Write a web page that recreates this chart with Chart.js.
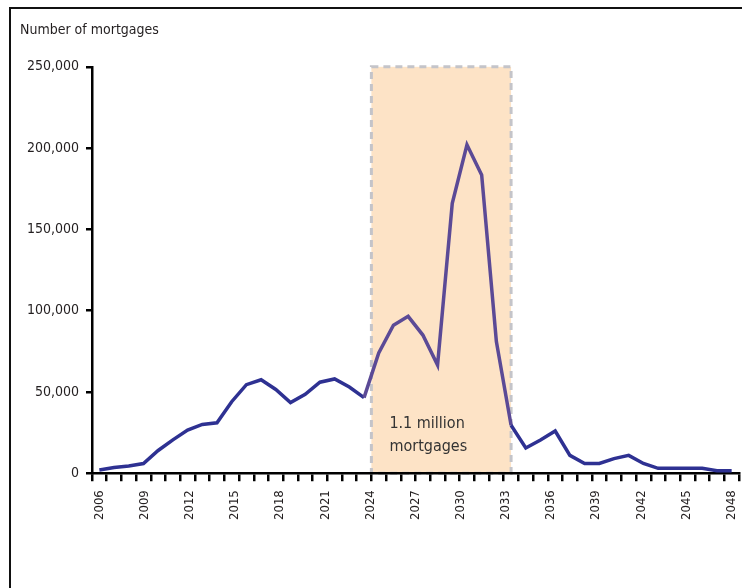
<!DOCTYPE html>
<html>
<head>
<meta charset="utf-8">
<script src="https://cdn.jsdelivr.net/npm/chart.js@4.4.1/dist/chart.umd.min.js"></script>
<style>
  body { margin: 0; background: #fff; }
  #frame { position: absolute; left: 9px; top: 7px; width: 760px; height: 600px;
           border-top: 2px solid #111; border-left: 2px solid #111; }
  #chart { position: absolute; left: 0; top: 0; }
</style>
</head>
<body>
<div id="frame"></div>
<canvas id="chart" width="742" height="588"></canvas>
<script>
// yearly data points (2006-2049)
var years = ['2006','2007','2008','2009','2010','2011','2012','2013','2014','2015',
  '2016','2017','2018','2019','2020','2021','2022','2023','2024','2025',
  '2026','2027','2028','2029','2030','2031','2032','2033','2034','2035',
  '2036','2037','2038','2039','2040','2041','2042','2043','2044','2045',
  '2046','2047','2048','2049']
var mortgages = [2000, 3500, 4500, 6000, 14000, 20500, 26500, 30000, 31000, 44000,
  54500, 57500, 51500, 43500, 48500, 56000, 58000, 53000, 46500, 74000,
  91000, 96500, 85000, 66500, 166000, 202000, 183500, 81000, 29500, 15500,
  20500, 26000, 11000, 6000, 6000, 9000, 11000, 6000, 3000, 3000,
  3000, 3000, 1500, 1500]

// labels printed under the axis
var axisYears = ['2006','2007','2008','2009','2010','2011','2012','2013','2014','2015',
  '2016','2017','2018','2019','2020','2021','2022','2023','2024','2025',
  '2026','2027','2028','2029','2030','2031','2032','2033','2034','2035',
  '2036','2037','2038','2039','2040','2041','2042','2043','2044','2045',
  '2046','2047','2048']
var labelEvery = 3

// highlighted period and its note
var shadeFrom = 2024.5
var shadeTo = 2034
var shadeNote = ['1.1 million', 'mortgages']

var FONT = "'DejaVu Sans Condensed', 'Liberation Sans Narrow', sans-serif"
var INK = '#231f20'
var NAVY = '#2e3192'
var PURPLE = '#5b4a96'

var shadePlugin = {
  id: 'shade',
  beforeDraw: function(chart) {
    var ctx = chart.ctx, x = chart.scales.x, y = chart.scales.y
    var left = x.getPixelForValue(shadeFrom - 2006)
    var right = x.getPixelForValue(shadeTo - 2006)
    var top = y.getPixelForValue(250000), bottom = y.getPixelForValue(0)
    ctx.save()
    ctx.fillStyle = '#fde3c6'
    ctx.fillRect(left, top, right - left, bottom - top)
    ctx.setLineDash([7, 5])
    ctx.lineWidth = 3
    ctx.strokeStyle = '#c4c4c9'
    ctx.strokeRect(left, top, right - left, bottom - top)
    ctx.setLineDash([])
    ctx.fillStyle = '#333'
    ctx.font = '16px ' + FONT
    ctx.textBaseline = 'middle'
    ctx.fillText(shadeNote[0], left + 18, y.getPixelForValue(30500))
    ctx.fillText(shadeNote[1], left + 18, y.getPixelForValue(16500))
    ctx.restore()
  }
}

function inShade(i) { return i >= shadeFrom - 2006 - 0.5 && i <= shadeTo - 2006 }

new Chart(document.getElementById('chart'), {
  type: 'line',
  data: {
    labels: years,
    datasets: [{
      data: mortgages,
      borderColor: NAVY,
      borderWidth: 3.5,
      pointRadius: 0,
      tension: 0,
      clip: false,
      segment: {
        borderColor: function(c) {
          return inShade(c.p0DataIndex) && inShade(c.p1DataIndex) ? PURPLE : NAVY
        }
      }
    }]
  },
  options: {
    responsive: false,
    animation: false,
    layout: { padding: { left: 20, right: 3, top: 0, bottom: 59 } },
    plugins: {
      legend: { display: false },
      tooltip: { enabled: false },
      title: {
        display: true, text: 'Number of mortgages', align: 'start', color: INK,
        font: { family: FONT, size: 14, weight: 'normal' },
        padding: { top: 22, bottom: 28 }
      }
    },
    scales: {
      x: {
        offset: true,
        grid: { offset: true, drawOnChartArea: false, tickLength: 8, color: '#000', lineWidth: 2.5 },
        border: { color: '#000', width: 2.5 },
        ticks: { display: false },
        afterFit: function(s) { s.paddingLeft = 0; s.paddingRight = 0 }
      },
      x2: {
        type: 'category', labels: axisYears, position: 'bottom', offset: true,
        grid: { display: false, drawTicks: false },
        border: { display: false },
        ticks: {
          autoSkip: false, minRotation: 90, maxRotation: 90, padding: 9, color: INK,
          font: { family: FONT, size: 13 },
          callback: function(v) { return v % labelEvery === 0 ? axisYears[v] : '' }
        },
        afterFit: function(s) { s.paddingLeft = 0; s.paddingRight = 0 }
      },
      y: {
        min: 0, max: 250000,
        ticks: { stepSize: 50000, padding: 7, color: INK, font: { family: FONT, size: 14 } },
        grid: { drawOnChartArea: false, tickLength: 6, color: '#000', lineWidth: 2.5 },
        border: { color: '#000', width: 2.5 },
        afterFit: function(s) { s.width = 72 }
      }
    }
  },
  plugins: [shadePlugin]
})
</script>
</body>
</html>
